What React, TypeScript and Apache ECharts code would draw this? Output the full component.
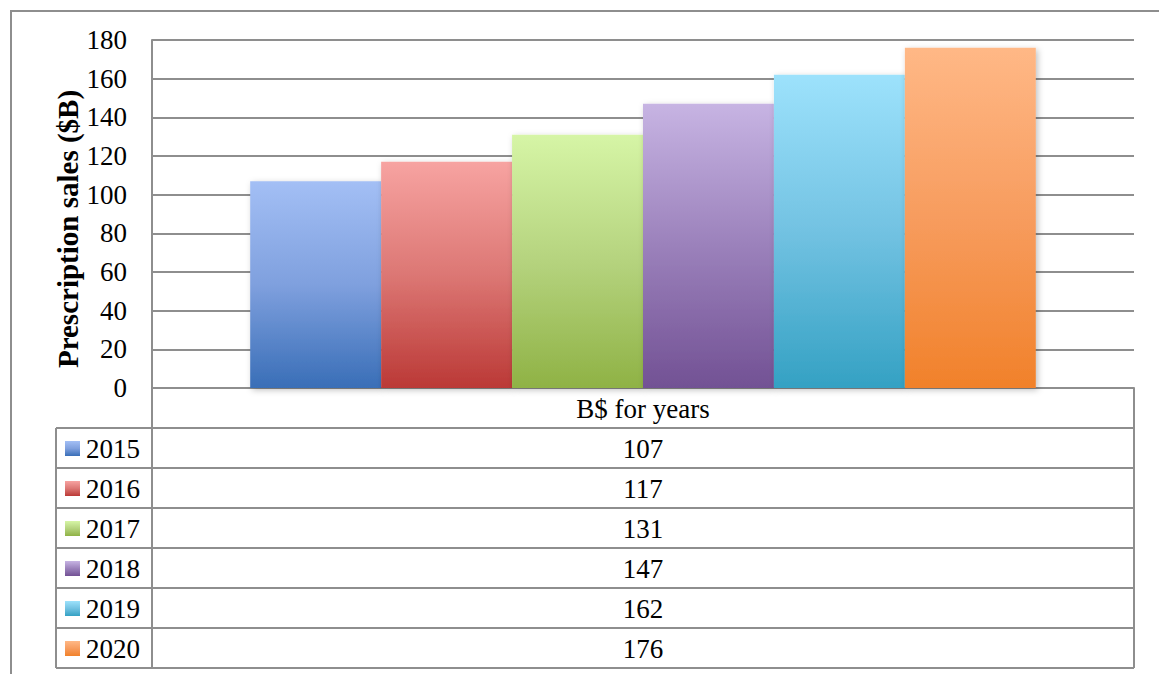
import React, { useEffect, useRef } from "react";
import * as echarts from "echarts";

const categories = ["B$ for years"];
const years = ["2015", "2016", "2017", "2018", "2019", "2020"];
const values = [107, 117, 131, 147, 162, 176];
const yMin = 0;
const yMax = 180;
const yInterval = 20;
const yTitle = "Prescription sales ($B)";

const gradients: [string, string, string][] = [
  ["#A3BFF5", "#7FA0DE", "#396EB7"],
  ["#F7A3A1", "#DC7774", "#BB3936"],
  ["#D6F5A6", "#B5D37E", "#8FB245"],
  ["#C7B4E3", "#9B81BB", "#725194"],
  ["#9DE2FC", "#72C2E2", "#34A1C3"],
  ["#FFB886", "#F79C5E", "#F1812A"],
];

const FONT = "'Liberation Serif', 'Times New Roman', serif";
const LINE = "#8e8e8e";

function grad(c: [string, string, string]) {
  return new echarts.graphic.LinearGradient(0, 0, 0, 1, [
    { offset: 0, color: c[0] },
    { offset: 0.5, color: c[1] },
    { offset: 1, color: c[2] },
  ]);
}

export default function App() {
  const ref = useRef<HTMLDivElement>(null);
  useEffect(() => {
    if (!ref.current) return;
    const chart = echarts.init(ref.current, null, { renderer: "svg" });

    const gl = 152, gt = 40, gw = 982, gh = 348;
    const gr = gl + gw, gb = gt + gh;
    const rowH = 40;
    const tableLeft = 56;
    const headerBottom = gb + rowH;
    const tableBottom = headerBottom + rowH * years.length;
    const fontSize = 27;

    const graphics: any[] = [];
    graphics.push({
      type: "rect",
      shape: { x: 11, y: 11, width: 1170, height: 700 },
      style: { fill: "none", stroke: LINE, lineWidth: 2 },
      silent: true,
    });
    graphics.push({
      type: "text",
      x: 68,
      y: 229,
      rotation: Math.PI / 2,
      style: {
        text: yTitle,
        font: `bold 29px ${FONT}`,
        fill: "#000",
        align: "center",
        verticalAlign: "middle",
      },
    });
    const hline = (x1: number, x2: number, y: number) =>
      graphics.push({ type: "line", shape: { x1, y1: y, x2, y2: y }, style: { stroke: LINE, lineWidth: 2 }, silent: true });
    const vline = (x: number, y1: number, y2: number) =>
      graphics.push({ type: "line", shape: { x1: x, y1, x2: x, y2 }, style: { stroke: LINE, lineWidth: 2 }, silent: true });

    vline(gl, gb, tableBottom);
    vline(gr, gb, tableBottom);
    vline(tableLeft, headerBottom, tableBottom);
    for (let i = 0; i <= years.length; i++) {
      hline(tableLeft, gr, headerBottom + i * rowH);
    }
    graphics.push({
      type: "text",
      x: (gl + gr) / 2,
      y: gb + rowH / 2 + 1,
      style: { text: categories[0], font: `${fontSize}px ${FONT}`, fill: "#000", align: "center", verticalAlign: "middle" },
    });
    years.forEach((yr, i) => {
      const cy = headerBottom + i * rowH + rowH / 2 + 1;
      graphics.push({
        type: "rect",
        shape: { x: 65, y: cy - 8, width: 15, height: 15 },
        style: { fill: grad(gradients[i]) },
      });
      graphics.push({
        type: "text",
        x: 86,
        y: cy,
        style: { text: yr, font: `${fontSize}px ${FONT}`, fill: "#000", align: "left", verticalAlign: "middle" },
      });
      graphics.push({
        type: "text",
        x: (gl + gr) / 2,
        y: cy,
        style: { text: String(values[i]), font: `${fontSize}px ${FONT}`, fill: "#000", align: "center", verticalAlign: "middle" },
      });
    });

    chart.setOption({
      animation: false,
      backgroundColor: "#fff",
      grid: { left: gl, top: gt, width: gw, height: gh, containLabel: false },
      xAxis: {
        type: "category",
        data: categories,
        axisLabel: { show: false },
        axisTick: { show: false },
        axisLine: { lineStyle: { color: LINE, width: 2 } },
      },
      yAxis: {
        type: "value",
        min: yMin,
        max: yMax,
        interval: yInterval,
        axisLine: { show: true, lineStyle: { color: LINE, width: 2 } },
        axisTick: { show: false },
        splitLine: { lineStyle: { color: LINE, width: 2 } },
        axisLabel: { margin: 25, fontFamily: FONT, fontSize, color: "#000" },
      },
      series: years.map((yr, i) => ({
        type: "bar",
        name: yr,
        data: [values[i]],
        barGap: "0%",
        barCategoryGap: "20%",
        itemStyle: {
          color: grad(gradients[i]),
          shadowBlur: 6,
          shadowColor: "rgba(0,0,0,0.25)",
          shadowOffsetX: 2,
          shadowOffsetY: 2,
        },
      })),
      graphic: graphics,
    });
    return () => chart.dispose();
  }, []);
  return (
    <div
      ref={ref}
      style={{ position: "fixed", left: 0, top: 0, width: 1159, height: 674 }}
    />
  );
}
